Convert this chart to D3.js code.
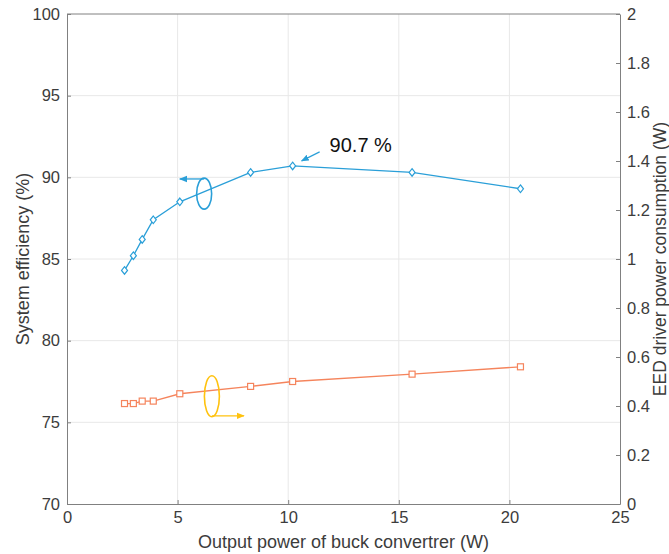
<!DOCTYPE html>
<html>
<head>
<meta charset="utf-8">
<script src="https://cdn.jsdelivr.net/npm/d3@7"></script>
<style>
  html, body { margin: 0; padding: 0; background: #fff; }
  svg { display: block; font-family: "Liberation Sans", Arial, sans-serif; }
</style>
</head>
<body>
<div id="chart"></div>
<script>
const W = 669, H = 554;
const M = { left: 67, right: 49, top: 14, bottom: 50 };

// data
const power      = [2.6, 3.0, 3.4, 3.9, 5.1, 8.3, 10.2, 15.6, 20.5];
const efficiency = [84.3, 85.2, 86.2, 87.4, 88.5, 90.3, 90.7, 90.3, 89.3];
const driverLoss = [0.41, 0.41, 0.42, 0.42, 0.45, 0.48, 0.50, 0.53, 0.56];

const xTicks  = [0, 5, 10, 15, 20, 25];
const yTicks  = [70, 75, 80, 85, 90, 95, 100];
const y2Ticks = [0, 0.2, 0.4, 0.6, 0.8, 1, 1.2, 1.4, 1.6, 1.8, 2];

const BLUE = '#2a9fd8', ORANGE = '#f5845c', GOLD = '#ffc20e';
const AXIS_C = '#808080', TEXT_C = '#3c3c3c', GRID_C = '#e8e8e8';

const x  = d3.scaleLinear().domain([0, 25]).range([M.left, W - M.right]);
const y  = d3.scaleLinear().domain([70, 100]).range([H - M.bottom, M.top]);
const y2 = d3.scaleLinear().domain([0, 2]).range([H - M.bottom, M.top]);

const svg = d3.select('#chart').append('svg')
  .attr('width', W).attr('height', H);

const defs = svg.append('defs');
function arrowHead(id, color) {
  defs.append('marker')
    .attr('id', id)
    .attr('viewBox', '0 0 10 10')
    .attr('refX', 9).attr('refY', 5)
    .attr('markerWidth', 8).attr('markerHeight', 8)
    .attr('markerUnits', 'userSpaceOnUse')
    .attr('orient', 'auto')
    .append('path').attr('d', 'M0,1 L10,5 L0,9 Z').attr('fill', color);
}
arrowHead('ahBlue', BLUE);
arrowHead('ahGold', GOLD);

// grid
const grid = svg.append('g').attr('stroke', GRID_C).attr('stroke-width', 1);
xTicks.slice(1, -1).forEach(t => grid.append('line')
  .attr('x1', x(t)).attr('x2', x(t)).attr('y1', y(70)).attr('y2', y(100)));
yTicks.slice(1, -1).forEach(t => grid.append('line')
  .attr('x1', x(0)).attr('x2', x(25)).attr('y1', y(t)).attr('y2', y(t)));

// axes
function styleAxis(g) {
  g.select('.domain').attr('stroke', AXIS_C);
  g.selectAll('.tick line').attr('stroke', AXIS_C);
  g.selectAll('.tick text').attr('fill', TEXT_C).attr('font-size', 16.5)
    .attr('font-family', '"Liberation Sans", Arial, sans-serif');
}
svg.append('g')
  .attr('transform', `translate(0,${y(70)})`)
  .call(d3.axisBottom(x).tickValues(xTicks).tickSizeInner(-4).tickSizeOuter(0).tickPadding(7))
  .call(styleAxis);
svg.append('g')
  .attr('transform', `translate(${x(0)},0)`)
  .call(d3.axisLeft(y).tickValues(yTicks).tickSizeInner(-4).tickSizeOuter(0).tickPadding(7))
  .call(styleAxis);
svg.append('g')
  .attr('transform', `translate(${x(25)},0)`)
  .call(d3.axisRight(y2).tickValues(y2Ticks).tickFormat(d3.format('~g'))
    .tickSizeInner(-4).tickSizeOuter(0).tickPadding(7))
  .call(styleAxis);
svg.append('line')
  .attr('x1', x(0)).attr('x2', x(25)).attr('y1', y(100)).attr('y2', y(100))
  .attr('stroke', AXIS_C);

// axis titles
svg.append('text')
  .attr('x', (x(0) + x(25)) / 2).attr('y', 548)
  .attr('text-anchor', 'middle').attr('font-size', 18).attr('fill', TEXT_C)
  .text('Output power of buck convertrer (W)');
svg.append('text')
  .attr('transform', `translate(29,${(y(70) + y(100)) / 2}) rotate(-90)`)
  .attr('text-anchor', 'middle').attr('font-size', 18).attr('fill', TEXT_C)
  .text('System efficiency (%)');
svg.append('text')
  .attr('transform', `translate(666,${(y(70) + y(100)) / 2}) rotate(-90)`)
  .attr('text-anchor', 'middle').attr('font-size', 17.5).attr('fill', TEXT_C)
  .text('EED driver power consumption (W)');

// efficiency series
const effPts = power.map((p, i) => [x(p), y(efficiency[i])]);
svg.append('path')
  .attr('d', d3.line()(effPts))
  .attr('fill', 'none').attr('stroke', BLUE).attr('stroke-width', 1.3);
svg.append('g').selectAll('path')
  .data(effPts).join('path')
  .attr('d', d => `M${d[0]},${d[1] - 3.8}L${d[0] + 3},${d[1]}L${d[0]},${d[1] + 3.8}L${d[0] - 3},${d[1]}Z`)
  .attr('fill', '#fff').attr('stroke', BLUE).attr('stroke-width', 1.2);

// driver consumption series
const lossPts = power.map((p, i) => [x(p), y2(driverLoss[i])]);
svg.append('path')
  .attr('d', d3.line()(lossPts))
  .attr('fill', 'none').attr('stroke', ORANGE).attr('stroke-width', 1.3);
svg.append('g').selectAll('rect')
  .data(lossPts).join('rect')
  .attr('x', d => d[0] - 3).attr('y', d => d[1] - 3)
  .attr('width', 6).attr('height', 6)
  .attr('fill', '#fff').attr('stroke', ORANGE).attr('stroke-width', 1.2);

// series-to-axis markers (ellipse + arrow)
svg.append('ellipse')
  .attr('cx', x(6.2)).attr('cy', y(89.0)).attr('rx', 7.5).attr('ry', 15.5)
  .attr('fill', 'none').attr('stroke', BLUE).attr('stroke-width', 1.6);
svg.append('line')
  .attr('x1', x(6.2)).attr('y1', y(89.9)).attr('x2', x(5.1)).attr('y2', y(89.9))
  .attr('stroke', BLUE).attr('stroke-width', 1.3).attr('marker-end', 'url(#ahBlue)');

svg.append('ellipse')
  .attr('cx', x(6.55)).attr('cy', y2(0.44)).attr('rx', 7.5).attr('ry', 20.5)
  .attr('fill', 'none').attr('stroke', GOLD).attr('stroke-width', 1.6);
svg.append('line')
  .attr('x1', x(6.55)).attr('y1', y2(0.36)).attr('x2', x(8.0)).attr('y2', y2(0.36))
  .attr('stroke', GOLD).attr('stroke-width', 1.3).attr('marker-end', 'url(#ahGold)');

// peak annotation
const peak = { x: 10.2, y: 90.7 };
svg.append('line')
  .attr('x1', x(peak.x) + 27).attr('y1', y(peak.y) - 14)
  .attr('x2', x(peak.x) + 9).attr('y2', y(peak.y) - 5)
  .attr('stroke', BLUE).attr('stroke-width', 1.2).attr('marker-end', 'url(#ahBlue)');
svg.append('text')
  .attr('x', x(peak.x) + 37).attr('y', y(peak.y) - 14)
  .attr('font-size', 20).attr('fill', '#111')
  .text('90.7 %');
</script>
</body>
</html>
